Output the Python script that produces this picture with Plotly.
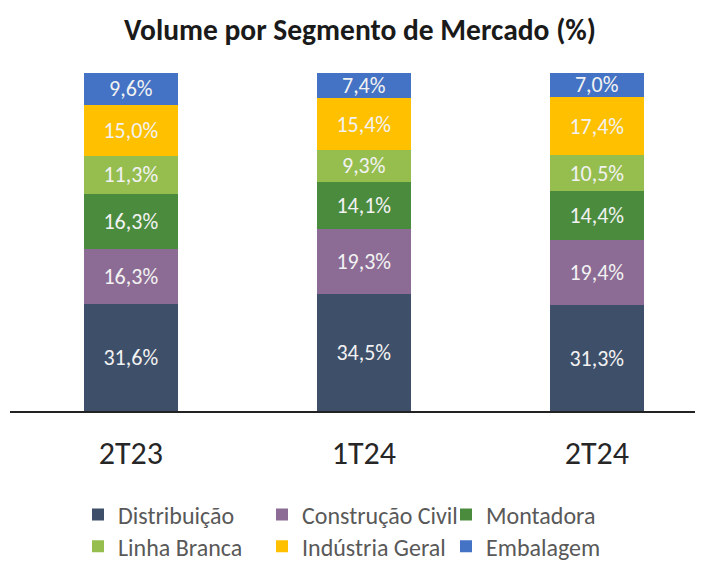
import plotly.graph_objects as go

categories = ["2T23", "1T24", "2T24"]
series_names = ["Distribuição", "Construção Civil", "Montadora",
                "Linha Branca", "Indústria Geral", "Embalagem"]
distribuicao = [31.6, 34.5, 31.3]
construcao_civil = [16.3, 19.3, 19.4]
montadora = [16.3, 14.1, 14.4]
linha_branca = [11.3, 9.3, 10.5]
industria_geral = [15.0, 15.4, 17.4]
embalagem = [9.6, 7.4, 7.0]

values = [distribuicao, construcao_civil, montadora,
          linha_branca, industria_geral, embalagem]
colors = ["#3E4F69", "#8C6C94", "#4B8B3E", "#95BE4F", "#FFC000", "#4472C4"]
legend_ids = ["legend", "legend", "legend", "legend2", "legend2", "legend2"]

FONT = "Carlito, Calibri, Lato, sans-serif"

def fmt(v):
    return f"{v:.1f}".replace(".", ",") + "%"

fig = go.Figure()
for name, vals, col, lg in zip(series_names, values, colors, legend_ids):
    fig.add_trace(go.Bar(
        name=name, x=categories, y=vals,
        marker=dict(color=col, line=dict(width=0)),
        text=[fmt(v) for v in vals],
        textposition="inside", insidetextanchor="middle", textangle=0,
        constraintext="none",
        textfont=dict(color="#F2F2F2", size=22, family=FONT),
        width=0.403, legend=lg,
    ))

leg_common = dict(orientation="h", xanchor="left", yanchor="middle",
                  entrywidth=139, entrywidthmode="pixels", traceorder="normal",
                  bgcolor="rgba(0,0,0,0)",
                  font=dict(size=24, color="#595959", family=FONT))

fig.update_layout(
    barmode="stack",
    width=703, height=564,
    margin=dict(l=2, r=0, t=57, b=161, autoexpand=False),
    paper_bgcolor="white", plot_bgcolor="white",
    uniformtext=dict(minsize=22, mode="show"),
    title=dict(text="<b>Volume por Segmento de Mercado (%)</b>",
               x=0.5007, xanchor="center", y=0.961, yanchor="middle",
               font=dict(size=29.5, color="#1a1a1a", family=FONT)),
    showlegend=True,
    legend=dict(x=0.097, y=-0.3, **leg_common),
    legend2=dict(x=0.097, y=-0.392, **leg_common),
    xaxis=dict(range=[-0.519, 2.490], showline=True, linecolor="#222222", linewidth=1.5,
               showgrid=False, ticks="", ticklabelstandoff=13,
               tickfont=dict(size=32, color="#262626", family=FONT), fixedrange=True),
    yaxis=dict(range=[0, 102.37], visible=False, showgrid=False, fixedrange=True),
)

fig.write_html("out.html")
